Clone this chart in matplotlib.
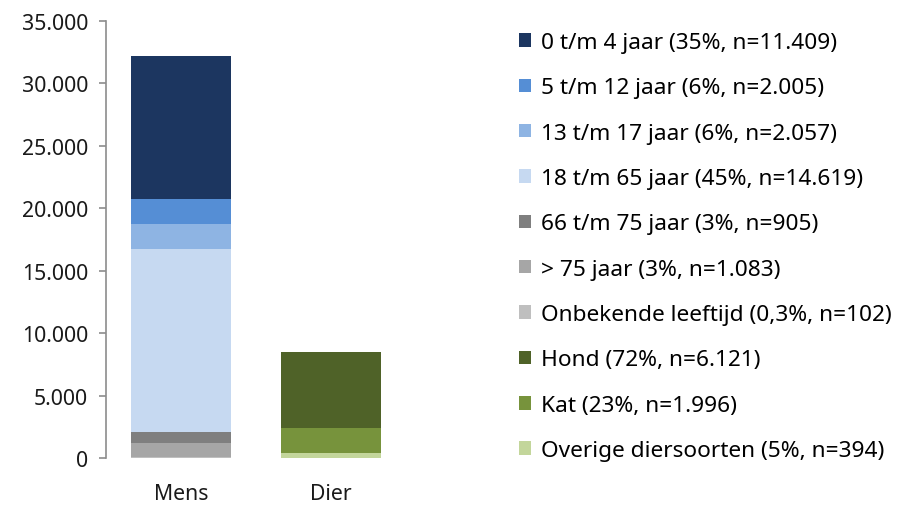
import matplotlib
matplotlib.use('Agg')
import matplotlib.pyplot as plt
from matplotlib.patches import Patch
from matplotlib.ticker import FuncFormatter

plt.rcParams['font.family'] = ['Noto Sans', 'DejaVu Sans']

categories = ['Mens', 'Dier']

# reeksen van onder naar boven gestapeld
mens_labels = ['Onbekende leeftijd (0,3%, n=102)', '> 75 jaar (3%, n=1.083)',
               '66 t/m 75 jaar (3%, n=905)', '18 t/m 65 jaar (45%, n=14.619)',
               '13 t/m 17 jaar (6%, n=2.057)', '5 t/m 12 jaar (6%, n=2.005)',
               '0 t/m 4 jaar (35%, n=11.409)']
mens_values = [102, 1083, 905, 14619, 2057, 2005, 11409]
mens_colors = ['#BFBFBF', '#A6A6A6', '#7F7F7F', '#C6D9F1', '#8EB4E3', '#558ED5', '#1C3660']

dier_labels = ['Overige diersoorten (5%, n=394)', 'Kat (23%, n=1.996)', 'Hond (72%, n=6.121)']
dier_values = [394, 1996, 6121]
dier_colors = ['#C3D69B', '#77933C', '#4F6228']

fig = plt.figure(figsize=(8.97, 5.06), dpi=100)
ax = fig.add_axes([106/897, 47/506, 300/897, 437/506])

width = 0.67
bottom = 0
for v, c in zip(mens_values, mens_colors):
    ax.bar(0, v, width, bottom=bottom, color=c)
    bottom += v
bottom = 0
for v, c in zip(dier_values, dier_colors):
    ax.bar(1, v, width, bottom=bottom, color=c)
    bottom += v

ax.set_xlim(-0.5, 1.5)
ax.set_ylim(0, 35000)
ax.set_yticks(range(0, 35001, 5000))
ax.yaxis.set_major_formatter(FuncFormatter(lambda v, p: f'{int(v):,}'.replace(',', '.')))
ax.set_xticks([0, 1])
ax.set_xticklabels(categories)
for s in ['top', 'right', 'bottom']:
    ax.spines[s].set_visible(False)
ax.spines['left'].set_color('#8C8C8C')
ax.spines['left'].set_linewidth(1.2)
ax.tick_params(axis='y', colors='#8C8C8C', labelcolor='#1a1a1a', length=5, width=1.2,
               labelsize=15.3, pad=8)
ax.tick_params(axis='x', length=0, labelsize=15.3, labelcolor='#1a1a1a', pad=18)

handles = []
for lab, c in zip(mens_labels[::-1] + dier_labels[::-1], mens_colors[::-1] + dier_colors[::-1]):
    handles.append(Patch(facecolor=c, label=lab))
fig.legend(handles=handles, loc='upper left', bbox_to_anchor=(519/897, 1 - 33/506),
           frameon=False, fontsize=16.3, handlelength=0.55, handleheight=0.55,
           handletextpad=0.4, labelspacing=1.075, borderaxespad=0, borderpad=0)

fig.savefig('out.png', dpi=100)
